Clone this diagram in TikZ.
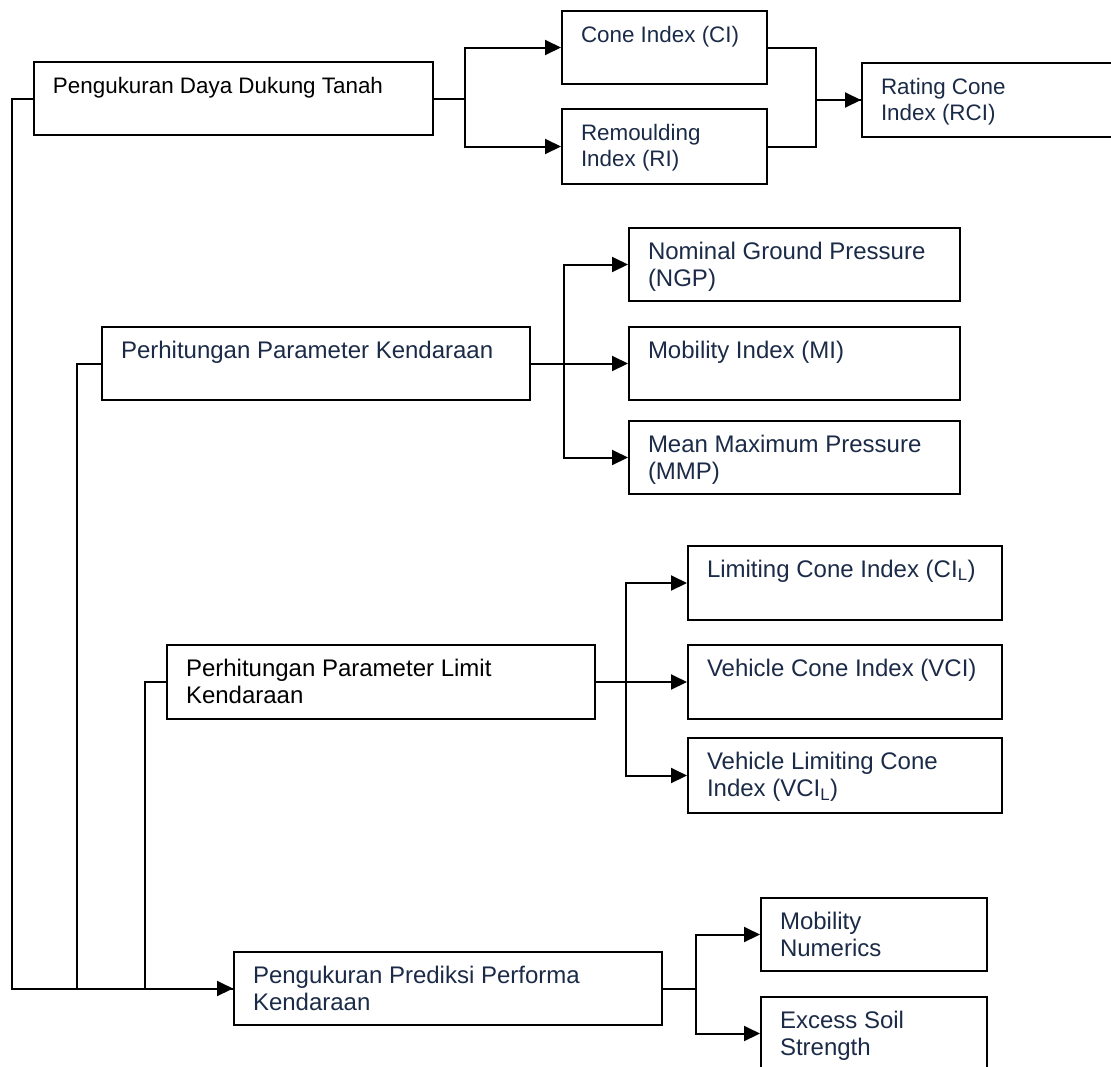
\documentclass[tikz,border=0pt]{standalone}
\usepackage{fontspec}
\setmainfont{Liberation Sans}
\usepackage{xcolor}
\usetikzlibrary{arrows.meta}
\definecolor{teks}{HTML}{1B2B47}
% isi kotak: lebar, tinggi, teks (rata atas, rata kiri)
\newcommand\isi[3]{%
  \parbox[c][#2pt][t]{#1pt}{\leftskip=19pt\rightskip=0pt plus 1fil
    \rule{0pt}{31pt}#3}}
\tikzset{
  kotak/.style={draw,line width=2pt,anchor=north west,inner sep=0pt,
    text=teks,font=\fontsize{24}{27.5}\selectfont},
  kecil/.style={font=\fontsize{22.4}{26}\selectfont},
  hubung/.style={line width=2pt},
  panah/.style={-{Triangle[length=16pt,width=15pt]}}
}

\begin{document}
\begin{tikzpicture}[x=1pt,y=-1pt]
    \useasboundingbox (0,0) rectangle (1111,1066);
    % tanah
    \node[kotak,kecil,text=black] (A) at (33,61)
        {\isi{399}{73}{Pengukuran Daya Dukung Tanah}};
    \node[kotak,kecil] (CI) at (561,10) {\isi{205}{73}{Cone Index (CI)}};
    \node[kotak,kecil] (RI) at (561,108) {\isi{205}{75}{Remoulding\\Index (RI)}};
    \node[kotak,kecil] (RCI) at (861,62) {\isi{270}{74}{Rating Cone\\Index (RCI)}};
    % kendaraan
    \node[kotak] (B) at (101,326) {\isi{428}{73}{Perhitungan Parameter Kendaraan}};
    \node[kotak] (NGP) at (628,227) {\isi{331}{73}{Nominal Ground Pressure\\(NGP)}};
    \node[kotak] (MI) at (628,326) {\isi{331}{73}{Mobility Index (MI)}};
    \node[kotak] (MMP) at (628,420) {\isi{331}{73}{Mean Maximum Pressure\\(MMP)}};
    % limit
    \node[kotak,text=black] (C) at (166,644)
        {\isi{428}{74}{Perhitungan Parameter Limit\\Kendaraan}};
    \node[kotak] (LCI) at (687,545) {\isi{314}{74}{Limiting Cone Index (CI\textsubscript{L})}};
    \node[kotak] (VCI) at (687,644) {\isi{314}{74}{Vehicle Cone Index (VCI)}};
    \node[kotak] (VCIL) at (687,737)
        {\isi{314}{75}{Vehicle Limiting Cone\\Index (VCI\textsubscript{L})}};
    % prediksi
    \node[kotak] (D) at (233,951) {\isi{428}{73}{Pengukuran Prediksi Performa\\Kendaraan}};
    \node[kotak] (MN) at (760,897) {\isi{226}{73}{Mobility\\Numerics}};
    \node[kotak] (ES) at (760,996) {\isi{226}{73}{Excess Soil\\Strength}};

    % batang kiri
    \draw[hubung,panah] (A.west) -- ++(-21,0) |- (D.west);
    \draw[hubung] (B.west) -- ++(-24,0) |- (D.west);
    \draw[hubung] (C.west) -- ++(-21,0) |- (D.west);
    % cabang
    \foreach \n in {CI,RI}{
        \draw[hubung,panah] (A.east) -- ++(31,0) |- (\n.west);
    }
    \draw[hubung,panah] (CI.east) -- ++(48,0) |- (RCI.west);
    \draw[hubung] (RI.east) -- ++(48,0) |- (RCI.west);
    \foreach \n in {NGP,MI,MMP}{
        \draw[hubung,panah] (B.east) -- ++(33,0) |- (\n.west);
    }
    \foreach \n in {LCI,VCI,VCIL}{
        \draw[hubung,panah] (C.east) -- ++(30,0) |- (\n.west);
    }
    \foreach \n in {MN,ES}{
        \draw[hubung,panah] (D.east) -- ++(33,0) |- (\n.west);
    }
\end{tikzpicture}
\end{document}
